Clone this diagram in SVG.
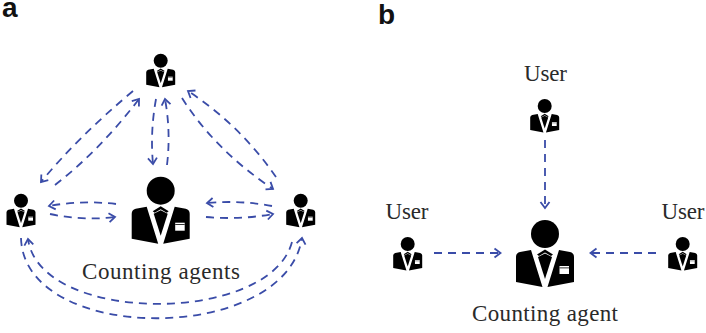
<svg xmlns="http://www.w3.org/2000/svg" width="706" height="333" viewBox="0 0 706 333">
<style>
.c{fill:none;stroke:#3a4ca8;stroke-width:1.8;stroke-dasharray:8 6;marker-end:url(#a)}
.t{font-family:"Liberation Serif",serif;font-size:23px;fill:#2a2a2a;text-anchor:middle}
.l{font-family:"Liberation Sans",Arial,sans-serif;font-size:28px;font-weight:bold;fill:#111}
</style>
<defs>
<marker id="a" markerUnits="userSpaceOnUse" markerWidth="14" markerHeight="14" refX="7" refY="6" orient="auto" overflow="visible">
<path d="M1,1.500 L7,6 L1,10.500" fill="none" stroke="#3a4ca8" stroke-width="1.800"/>
</marker>
<g id="p">
<circle cx="0" cy="0" r="14" fill="#000"/>
<path d="M-14,16 L-25,18 Q-29,19 -29,23 L-29,48 L-2.500,53 Z M14,16 L25,18 Q29,19 29,23 L29,48 L2.500,53 Z" fill="#000"/>
<path d="M-8,20.500 L0,15.500 L8,20.500 L6,22 L0,18.500 L-6,22 Z" fill="#000"/>
<path d="M-7,23 L0,19.500 L7,23 L0,45 Z" fill="#000"/>
<rect x="14.500" y="32" width="9.500" height="8" fill="#fff"/>
<rect x="14.500" y="33.500" width="9.500" height="0.800" fill="#000"/>
</g>
</defs>
<text class="l" x="2" y="17">a</text>
<text class="l" x="378" y="24">b</text>
<g id="connectors">
<path class="c" d="M133,91 Q78,137 41,182"/>
<path class="c" d="M55,185 Q100,150 139,99"/>
<path class="c" d="M156,99 Q150,132 153,164"/>
<path class="c" d="M167,165 Q171,132 165,99"/>
<path class="c" d="M182,98 Q215,150 273,189"/>
<path class="c" d="M276,177 Q240,125 188,91"/>
<path class="c" d="M272,206 Q240,200 207,203"/>
<path class="c" d="M206,217 Q240,220 273,214"/>
<path class="c" d="M116,204 Q82,200 49,206"/>
<path class="c" d="M50,214 Q83,221 115,217"/>
<path class="c" d="M21,238 C24,345 285,345 302,238"/>
<path class="c" d="M292,242 C270,325 40,325 28,239"/>
<path class="c" d="M545,140 L545,208"/>
<path class="c" d="M434,253 L500.500,253"/>
<path class="c" d="M656,253 L590.500,253"/>
</g>
<g id="agent-top"><use href="#p" transform="translate(160.700,60.700) scale(.5)"/></g>
<g id="agent-left"><use href="#p" transform="translate(21,200.700) scale(.5)"/></g>
<g id="agent-right"><use href="#p" transform="translate(300.700,200.700) scale(.5)"/></g>
<g id="agent-center"><use href="#p" transform="translate(160.700,190.700)"/></g>
<text class="t" x="161" y="278.500" textLength="158" lengthAdjust="spacing">Counting agents</text>
<g id="user-top"><text class="t" x="545.500" y="80.500" textLength="43" lengthAdjust="spacing">User</text><use href="#p" transform="translate(544.700,106) scale(.5)"/></g>
<g id="user-left"><text class="t" x="407" y="219" textLength="43" lengthAdjust="spacing">User</text><use href="#p" transform="translate(407.700,244) scale(.5)"/></g>
<g id="user-right"><text class="t" x="683" y="219" textLength="43" lengthAdjust="spacing">User</text><use href="#p" transform="translate(682.700,244) scale(.5)"/></g>
<g id="counting-agent"><use href="#p" transform="translate(545,234)"/><text class="t" x="545" y="321" textLength="146" lengthAdjust="spacing">Counting agent</text></g>
</svg>
